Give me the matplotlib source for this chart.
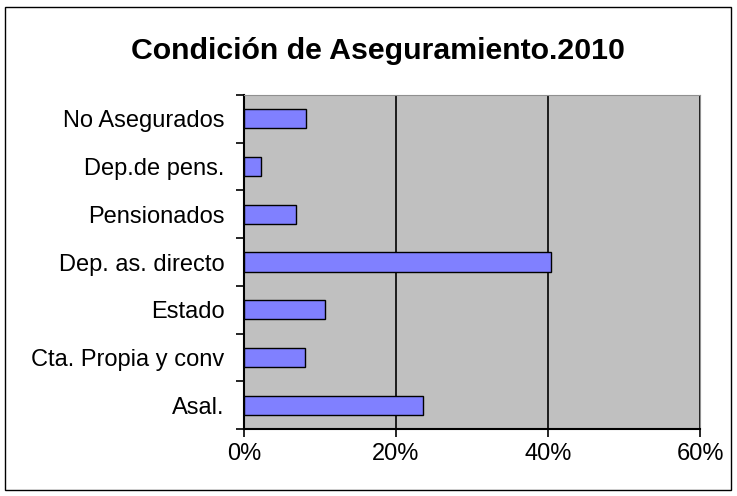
import matplotlib.pyplot as plt
from matplotlib.patches import Rectangle
from matplotlib.ticker import FixedLocator, PercentFormatter

plt.rcParams['font.family'] = ['Liberation Sans', 'DejaVu Sans']

categories = ['Asal.', 'Cta. Propia y conv', 'Estado', 'Dep. as. directo',
              'Pensionados', 'Dep.de pens.', 'No Asegurados']
values = [23.5, 8.0, 10.6, 40.4, 6.8, 2.3, 8.1]

fig = plt.figure(figsize=(7.37, 4.96), dpi=100)
fig.patches.append(Rectangle((0.007, 0.012), 0.985, 0.974, transform=fig.transFigure,
                             fill=False, edgecolor='black', linewidth=1.0))
ax = fig.add_axes([0.331, 0.135, 0.619, 0.6735])
ax.set_facecolor('#c0c0c0')

ypos = range(len(categories))
ax.barh(ypos, values, height=0.4, color='#8080ff', edgecolor='black', linewidth=1.0, zorder=3)

ax.set_xlim(0, 60)
ax.set_ylim(-0.5, len(categories) - 0.5)
ax.set_xticks([0, 20, 40, 60])
ax.xaxis.set_major_formatter(PercentFormatter(decimals=0))
ax.set_yticks(list(ypos))
ax.set_yticklabels(categories)
ax.yaxis.set_minor_locator(FixedLocator([i - 0.5 for i in range(len(categories) + 1)]))
ax.tick_params(axis='y', which='major', length=0, pad=14, labelsize=17)
ax.tick_params(axis='y', which='minor', length=6, width=1.2, color='black')
ax.tick_params(axis='x', length=6, width=1.2, labelsize=17, pad=4)

ax.grid(axis='x', color='black', linewidth=1.2, zorder=1)
ax.set_axisbelow(True)
for s in ['top', 'right']:
    ax.spines[s].set_color('#909090')
for s in ['left', 'bottom']:
    ax.spines[s].set_linewidth(1.5)

fig.text(0.513, 0.897, 'Condición de Aseguramiento.2010', ha='center', va='center',
         fontsize=21.8, fontweight='bold')

fig.savefig('out.png', dpi=100)
